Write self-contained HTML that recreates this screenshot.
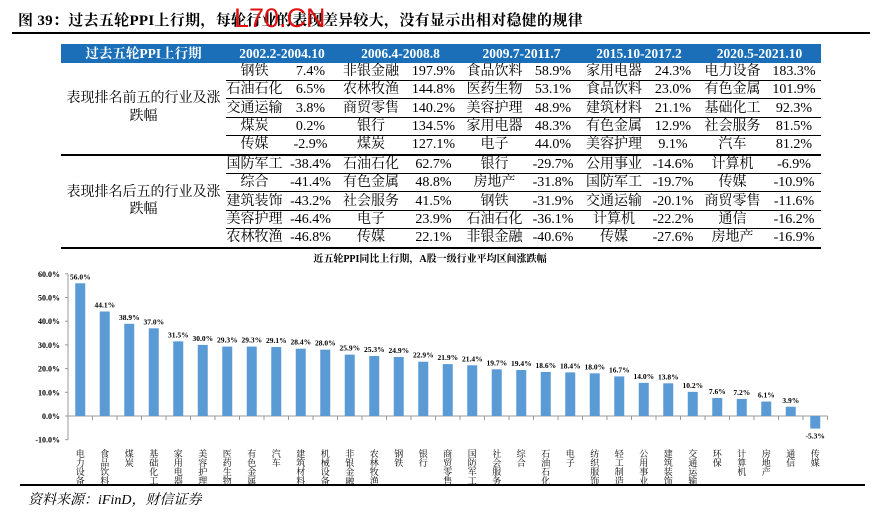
<!DOCTYPE html>
<html><head><meta charset="utf-8"><style>
body{margin:0;background:#fff;width:884px;height:517px;overflow:hidden;position:relative;font-family:"Liberation Serif","Noto Serif CJK SC","Noto Sans CJK SC",serif}
.title{position:absolute;left:18px;top:9px;font-size:15px;font-weight:bold;letter-spacing:0.3px}
.wm{position:absolute;left:234px;top:3px;font-family:"Liberation Sans",sans-serif;color:#e01010;font-size:27px}
.hr{position:absolute;background:#000}
table{position:absolute;left:61px;top:44px;border-collapse:collapse;font-size:14px;table-layout:fixed;width:760px}
td{padding:0;height:17.4px;line-height:17px;text-align:center;white-space:nowrap;overflow:hidden}
tr.h td{background:#1a6fb8;color:#fff;font-weight:bold;height:18.6px;font-size:13.5px}
td.n,td.v{border-bottom:1px solid #000}
.src{position:absolute;left:28px;top:489px;font-style:italic;font-size:14px}
</style></head><body>
<div class="title">图 39：过去五轮PPI上行期，每轮行业的表现差异较大，没有显示出相对稳健的规律</div>
<div class="wm">L70.CN</div>
<div class="hr" style="left:12px;top:32px;width:858px;height:2px"></div>
<table>
<colgroup><col style="width:165px"><col style="width:57px"><col style="width:55px"><col style="width:66px"><col style="width:59px"><col style="width:63px"><col style="width:54px"><col style="width:68px"><col style="width:50px"><col style="width:69px"><col style="width:54px"></colgroup>
<tr class="h"><td>过去五轮PPI上行期</td><td colspan="2">2002.2-2004.10</td><td colspan="2">2006.4-2008.8</td><td colspan="2">2009.7-2011.7</td><td colspan="2">2015.10-2017.2</td><td colspan="2">2020.5-2021.10</td></tr>
<tr><td rowspan="5" style="border-bottom:2px solid #000;line-height:18px">表现排名前五的行业及涨<br>跌幅</td><td class="n">钢铁</td><td class="v">7.4%</td><td class="n">非银金融</td><td class="v">197.9%</td><td class="n">食品饮料</td><td class="v">58.9%</td><td class="n">家用电器</td><td class="v">24.3%</td><td class="n">电力设备</td><td class="v">183.3%</td></tr>
<tr><td class="n">石油石化</td><td class="v">6.5%</td><td class="n">农林牧渔</td><td class="v">144.8%</td><td class="n">医药生物</td><td class="v">53.1%</td><td class="n">食品饮料</td><td class="v">23.0%</td><td class="n">有色金属</td><td class="v">101.9%</td></tr>
<tr><td class="n">交通运输</td><td class="v">3.8%</td><td class="n">商贸零售</td><td class="v">140.2%</td><td class="n">美容护理</td><td class="v">48.9%</td><td class="n">建筑材料</td><td class="v">21.1%</td><td class="n">基础化工</td><td class="v">92.3%</td></tr>
<tr><td class="n">煤炭</td><td class="v">0.2%</td><td class="n">银行</td><td class="v">134.5%</td><td class="n">家用电器</td><td class="v">48.3%</td><td class="n">有色金属</td><td class="v">12.9%</td><td class="n">社会服务</td><td class="v">81.5%</td></tr>
<tr style="border-bottom:2px solid #000"><td class="n">传媒</td><td class="v">-2.9%</td><td class="n">煤炭</td><td class="v">127.1%</td><td class="n">电子</td><td class="v">44.0%</td><td class="n">美容护理</td><td class="v">9.1%</td><td class="n">汽车</td><td class="v">81.2%</td></tr>
<tr><td rowspan="5" style="border-bottom:2px solid #000">表现排名后五的行业及涨<br>跌幅</td><td class="n">国防军工</td><td class="v">-38.4%</td><td class="n">石油石化</td><td class="v">62.7%</td><td class="n">银行</td><td class="v">-29.7%</td><td class="n">公用事业</td><td class="v">-14.6%</td><td class="n">计算机</td><td class="v">-6.9%</td></tr>
<tr><td class="n">综合</td><td class="v">-41.4%</td><td class="n">有色金属</td><td class="v">48.8%</td><td class="n">房地产</td><td class="v">-31.8%</td><td class="n">国防军工</td><td class="v">-19.7%</td><td class="n">传媒</td><td class="v">-10.9%</td></tr>
<tr><td class="n">建筑装饰</td><td class="v">-43.2%</td><td class="n">社会服务</td><td class="v">41.5%</td><td class="n">钢铁</td><td class="v">-31.9%</td><td class="n">交通运输</td><td class="v">-20.1%</td><td class="n">商贸零售</td><td class="v">-11.6%</td></tr>
<tr><td class="n">美容护理</td><td class="v">-46.4%</td><td class="n">电子</td><td class="v">23.9%</td><td class="n">石油石化</td><td class="v">-36.1%</td><td class="n">计算机</td><td class="v">-22.2%</td><td class="n">通信</td><td class="v">-16.2%</td></tr>
<tr style="border-bottom:2px solid #000"><td class="n">农林牧渔</td><td class="v">-46.8%</td><td class="n">传媒</td><td class="v">22.1%</td><td class="n">非银金融</td><td class="v">-40.6%</td><td class="n">传媒</td><td class="v">-27.6%</td><td class="n">房地产</td><td class="v">-16.9%</td></tr>
</table>
<svg id="c" width="884" height="517" style="position:absolute;left:0;top:0" xmlns="http://www.w3.org/2000/svg"></svg>
<div class="hr" style="left:20px;top:484px;width:845px;height:2px"></div>
<div class="src">资料来源：iFinD，财信证券</div>
<script>
var d=[["电力设备",56.0],["食品饮料",44.1],["煤炭",38.9],["基础化工",37.0],["家用电器",31.5],["美容护理",30.0],["医药生物",29.3],["有色金属",29.3],["汽车",29.1],["建筑材料",28.4],["机械设备",28.0],["非银金融",25.9],["农林牧渔",25.3],["钢铁",24.9],["银行",22.9],["商贸零售",21.9],["国防军工",21.4],["社会服务",19.7],["综合",19.4],["石油石化",18.6],["电子",18.4],["纺织服饰",18.0],["轻工制造",16.7],["公用事业",14.0],["建筑装饰",13.8],["交通运输",10.2],["环保",7.6],["计算机",7.2],["房地产",6.1],["通信",3.9],["传媒",-5.3]];
var s='',z=416,k=2.37,x0=68,sp=24.5;
s+='<text x="430" y="262" text-anchor="middle" font-size="10" font-weight="bold">近五轮PPI同比上行期，A股一级行业平均区间涨跌幅</text>';
for(var i=-1;i<=6;i++){var y=z-i*10*k;s+='<text x="60" y="'+(y+3)+'" text-anchor="end" font-size="8" font-weight="bold">'+(i*10).toFixed(1)+'%</text><line x1="65" x2="68" y1="'+y+'" y2="'+y+'" stroke="#999"/>';}
s+='<line x1="68" x2="68" y1="'+(z-60*k)+'" y2="'+(z+10*k)+'" stroke="#999"/>';
s+='<line x1="68" x2="'+(x0+sp*d.length)+'" y1="'+z+'" y2="'+z+'" stroke="#999"/>';
for(var i=0;i<d.length;i++){var c=x0+sp*(i+0.5),v=d[i][1],h=Math.abs(v)*k,y=v>=0?z-h:z;
s+='<line x1="'+(x0+sp*(i+1))+'" x2="'+(x0+sp*(i+1))+'" y1="'+z+'" y2="'+(z+4)+'" stroke="#999"/>';
s+='<rect x="'+(c-5)+'" y="'+y+'" width="10" height="'+h+'" fill="#5b9bd5"/>';
s+='<text x="'+c+'" y="'+(v>=0?y-4:y+h+10)+'" text-anchor="middle" font-size="7.5" font-weight="bold">'+v.toFixed(1)+'%</text>';
var n=d[i][0];for(var j=0;j<n.length;j++)s+='<text x="'+c+'" y="'+(457+j*9)+'" text-anchor="middle" font-size="9">'+n[j]+'</text>';}
document.getElementById('c').innerHTML=s;
</script>
</body></html>
